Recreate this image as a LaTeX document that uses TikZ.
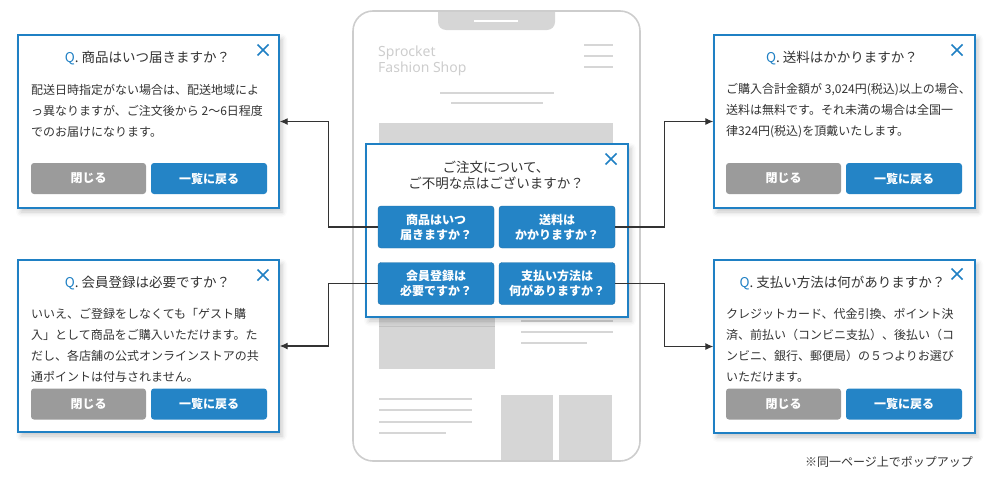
\documentclass[tikz,border=0pt]{standalone}
\usepackage{fontspec}
\setmainfont{Noto Sans CJK JP}
\newfontfamily\shopfont{Noto Sans}
\usetikzlibrary{arrows.meta, shadows.blur}

\definecolor{faqblue}{HTML}{1F80C4}
\definecolor{btnblue}{HTML}{2484C6}
\definecolor{btngrey}{HTML}{9B9B9B}
\definecolor{textdark}{HTML}{333333}
\definecolor{phonegrey}{HTML}{D6D6D6}
\definecolor{phoneedge}{HTML}{CDCDCD}

\begin{document}
\begin{tikzpicture}[x=1pt, y=-1pt, >={Latex[length=8pt, width=7pt]},
  qbox/.style={draw=faqblue, line width=1.4pt, fill=white, inner sep=0pt,
    minimum width=261pt, minimum height=173pt,
    blur shadow={shadow xshift=3pt, shadow yshift=-4pt, shadow blur radius=5pt, shadow opacity=22}},
  qtitle/.style={font=\fontsize{13.5}{16}\selectfont, text=textdark, inner sep=0pt},
  qbody/.style={font=\fontsize{12}{21}\selectfont, text=textdark, align=left, anchor=west, inner sep=0pt},
  closebtn/.style={fill=btngrey, rounded corners=3pt, minimum width=115pt, minimum height=31pt,
    text=white, font=\fontsize{12}{15}\selectfont\bfseries, inner sep=0pt},
  backbtn/.style={closebtn, fill=btnblue, minimum width=116pt},
  askbtn/.style={fill=btnblue, draw=btnblue!85!black, line width=0.4pt, rounded corners=3pt,
    minimum width=116pt, minimum height=42pt, text=white, align=center,
    font=\fontsize{12}{15}\selectfont\bfseries, inner sep=0pt},
  conn/.style={->, draw=textdark, line width=1.1pt},
  closex/.style={draw=faqblue, line width=1.5pt},
  phonebar/.style={draw=phonegrey, line width=2pt}
]

\useasboundingbox (0,0) rectangle (1000,479);

% Phone
\fill[phonegrey, rounded corners=8pt] (438,11) -- (438,30) -- (555,30) -- (555,11);
\draw[phoneedge, line width=1.6pt, rounded corners=20pt] (353,11) rectangle (640,461);
\draw[white, line width=2pt] (474,21) -- (518,21);
\node[font=\shopfont\fontsize{14}{16}\selectfont, text=phoneedge, align=left, anchor=west, inner sep=0pt]
  (shop) at (378,61) {Sprocket\\Fashion Shop};
\foreach \y in {45,56,67}
  \draw[phonebar] (584,\y) -- (613,\y);
\draw[phonebar] (440,93) -- (554,93);
\draw[phonebar] (451,103) -- (543,103);
\fill[phonegrey] (379,123) rectangle (613,240);
\fill[phonegrey] (379,250) rectangle (495,369);
\draw[phonebar] (521,321) -- (613,321);
\draw[phonebar] (521,332) -- (613,332);
\draw[phonebar] (521,343) -- (587,343);
\foreach \y in {399,410,422}
  \draw[phonebar] (379,\y) -- (472,\y);
\draw[phonebar] (379,433) -- (446,433);
\fill[phonegrey] (501,395) rectangle (553,460);
\fill[phonegrey] (559,395) rectangle (612,460);

% Popup on the page
\node[qbox, minimum width=262pt] (menu) at (497,230.5) {};
\node[qtitle, font=\fontsize{13.5}{15.5}\selectfont, align=center] (menutitle) at (496,175.5)
  {ご注文について、\\ご不明な点はございますか？};
\node[askbtn] (b1) at (436,227) {商品はいつ\\届きますか？};
\node[askbtn] (b2) at (557,227) {送料は\\かかりますか？};
\node[askbtn] (b3) at (436,283.5) {会員登録は\\必要ですか？};
\node[askbtn] (b4) at (557,283.5) {支払い方法は\\何がありますか？};

% Answer boxes
\node[qbox] (qa) at (148.5,121.5) {};
\node[qtitle] (qa-title) at (147.5,58) {\textcolor{faqblue}{Q}. 商品はいつ届きますか？};
\node[qbody] (qa-text) at (31,111)
  {配送日時指定がない場合は、配送地域によ\\っ異なりますが、ご注文後から 2〜6日程度\\でのお届けになります。};
\node[closebtn] (qa-close) at (88.5,178.5) {閉じる};
\node[backbtn] (qa-back) at (209,178.5) {一覧に戻る};

\node[qbox] (qb) at (844.5,121.5) {};
\node[qtitle] (qb-title) at (842,58) {\textcolor{faqblue}{Q}. 送料はかかりますか？};
\node[qbody] (qb-text) at (726,111)
  {ご購入合計金額が 3,024円(税込)以上の場合、\\送料は無料です。それ未満の場合は全国一\\律324円(税込)を頂戴いたします。};
\node[closebtn] (qb-close) at (783.5,178.5) {閉じる};
\node[backbtn] (qb-back) at (904,178.5) {一覧に戻る};

\node[qbox, minimum height=172pt] (qc) at (148.5,346) {};
\node[qtitle] (qc-title) at (147.5,283) {\textcolor{faqblue}{Q}. 会員登録は必要ですか？};
\node[qbody] (qc-text) at (31,345)
  {いいえ、ご登録をしなくても「ゲスト購\\入」として商品をご購入いただけます。た\\だし、各店舗の公式オンラインストアの共\\通ポイントは付与されません。};
\node[closebtn] (qc-close) at (88.5,404) {閉じる};
\node[backbtn] (qc-back) at (209,404) {一覧に戻る};

\node[qbox] (qd) at (844.5,346.5) {};
\node[qtitle] (qd-title) at (842.5,283) {\textcolor{faqblue}{Q}. 支払い方法は何がありますか？};
\node[qbody] (qd-text) at (726,345.5)
  {クレジットカード、代金引換、ポイント決\\済、前払い（コンビニ支払）、後払い（コ\\ンビニ、銀行、郵便局）の５つよりお選び\\いただけます。};
\node[closebtn] (qd-close) at (783.5,404) {閉じる};
\node[backbtn] (qd-back) at (904,404) {一覧に戻る};

% Close marks
\foreach \cx/\cy in {263/50, 957/50, 263/275, 957/274, 611/159}
  \draw[closex] (\cx-5.5,\cy-5.5) -- (\cx+5.5,\cy+5.5) (\cx-5.5,\cy+5.5) -- (\cx+5.5,\cy-5.5);

% Arrows
\draw[conn] (b1.west) -- ++(-49,0) |- (qa.east);
\draw[conn] (b3.west) -- ++(-49,0) |- (qc.east);
\draw[conn] (b2.east) -- ++(49,0) |- (qb.west);
\draw[conn] (b4.east) -- ++(49,0) |- (qd.west);

\node[font=\fontsize{12}{14}\selectfont, text=textdark, anchor=east, inner sep=0pt] (note) at (973,462)
  {※同一ページ上でポップアップ};

\end{tikzpicture}
\end{document}
